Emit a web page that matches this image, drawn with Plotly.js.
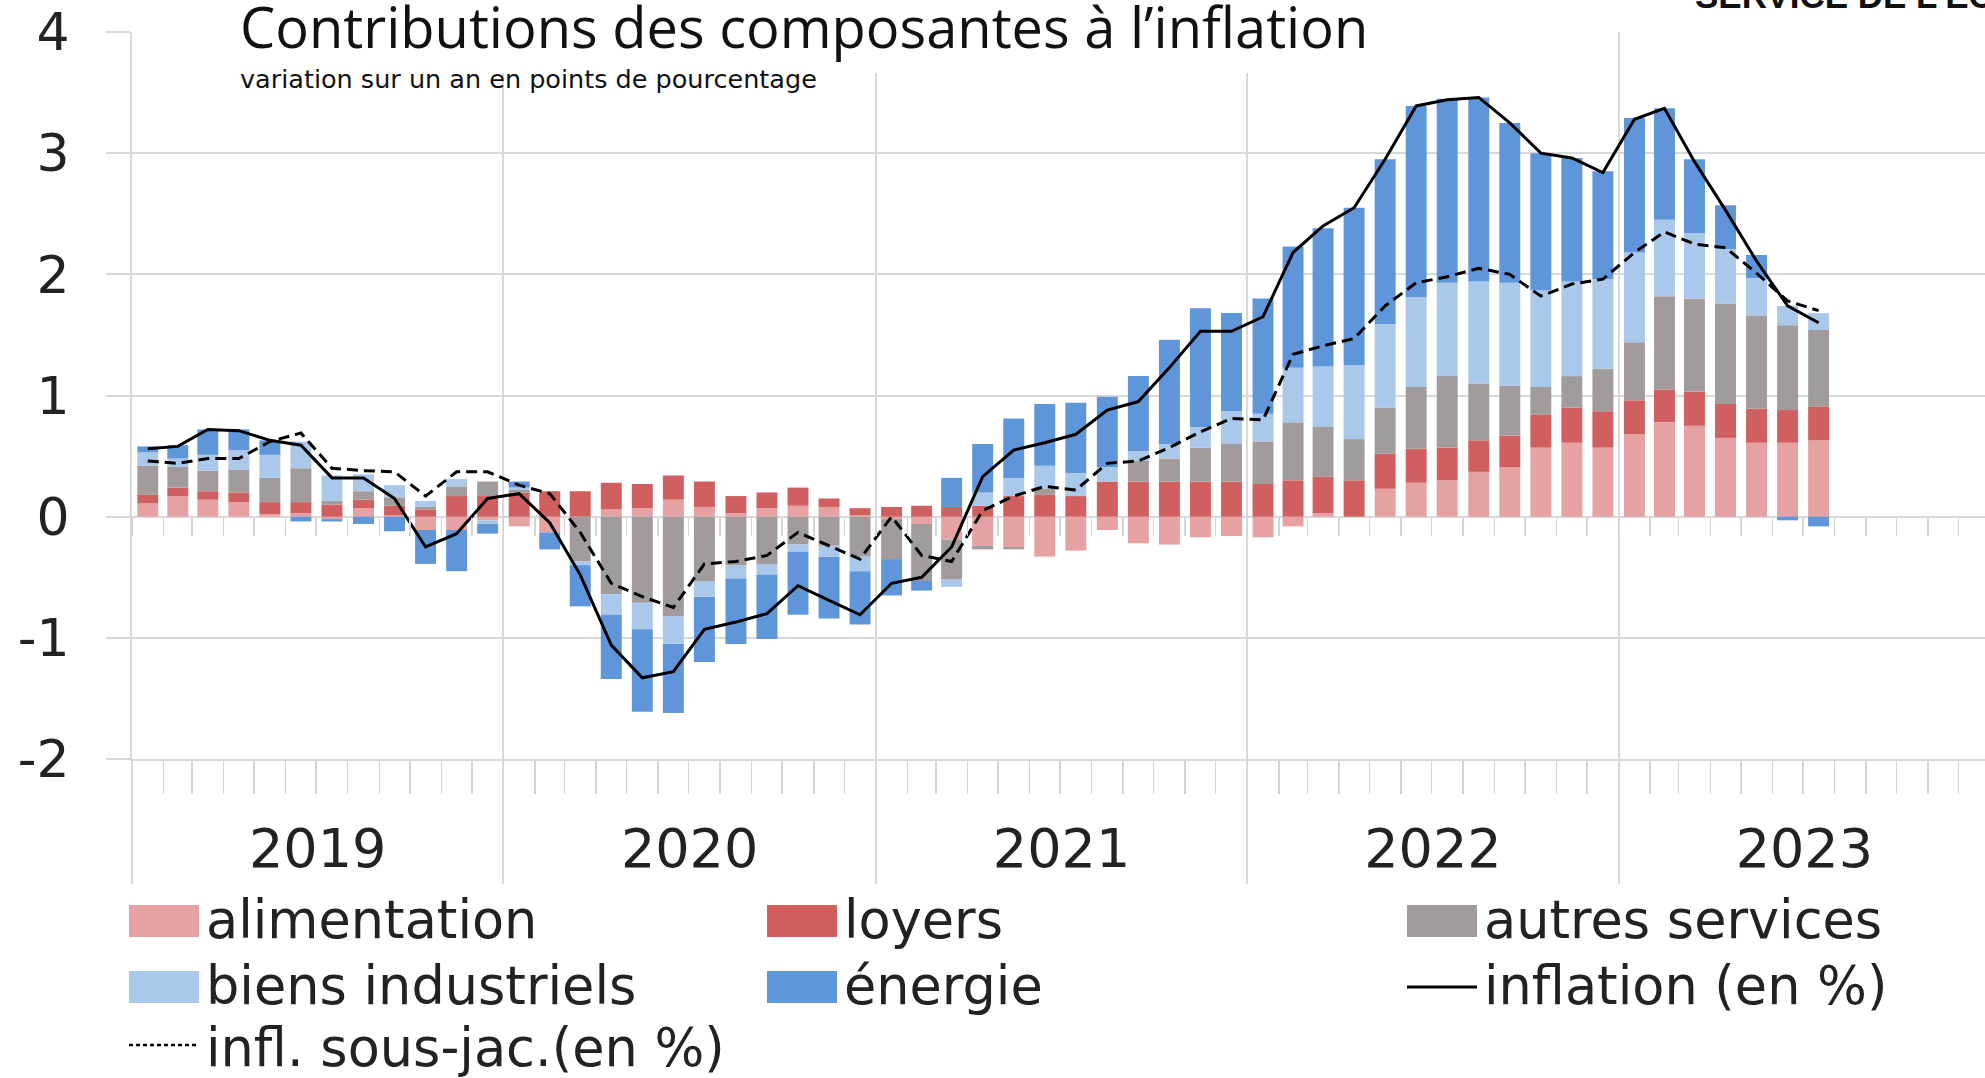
<!DOCTYPE html>
<html>
<head>
<meta charset="utf-8">
<script src="https://cdn.plot.ly/plotly-3.0.1.min.js"></script>
<style>
  html, body { margin: 0; padding: 0; background: #ffffff; }
  #chart { width: 1985px; height: 1078px; }
</style>
</head>
<body>
<div id="chart"></div>
<script>
// ---------- DATA ----------
const months = [
  '2019-01','2019-02','2019-03','2019-04','2019-05','2019-06','2019-07','2019-08','2019-09','2019-10','2019-11','2019-12',
  '2020-01','2020-02','2020-03','2020-04','2020-05','2020-06','2020-07','2020-08','2020-09','2020-10','2020-11','2020-12',
  '2021-01','2021-02','2021-03','2021-04','2021-05','2021-06','2021-07','2021-08','2021-09','2021-10','2021-11','2021-12',
  '2022-01','2022-02','2022-03','2022-04','2022-05','2022-06','2022-07','2022-08','2022-09','2022-10','2022-11','2022-12',
  '2023-01','2023-02','2023-03','2023-04','2023-05','2023-06','2023-07'
];

const alimentation = [
  0.11, 0.17, 0.14, 0.12, 0.02, 0.03, -0.02, 0.07, 0.01, -0.11, -0.11, -0.03,
  -0.08, -0.13, 0.00, 0.06, 0.07, 0.14, 0.08, 0.03, 0.07, 0.09, 0.08, 0.01,
  -0.02, -0.06, -0.19, -0.24, -0.25, -0.33, -0.28, -0.11, -0.22, -0.23, -0.17, -0.16,
  -0.17, -0.08, 0.03, 0.00, 0.23, 0.28, 0.30, 0.37, 0.41, 0.57, 0.61, 0.57,
  0.68, 0.78, 0.75, 0.65, 0.61, 0.61, 0.63
];
const loyers = [
  0.07, 0.07, 0.07, 0.08, 0.10, 0.09, 0.10, 0.07, 0.08, 0.06, 0.17, 0.17,
  0.20, 0.21, 0.21, 0.22, 0.20, 0.20, 0.21, 0.14, 0.13, 0.15, 0.07, 0.06,
  0.08, 0.09, 0.08, 0.09, 0.17, 0.18, 0.17, 0.29, 0.29, 0.29, 0.29, 0.29,
  0.27, 0.30, 0.30, 0.30, 0.29, 0.28, 0.27, 0.26, 0.26, 0.27, 0.29, 0.30,
  0.28, 0.27, 0.28, 0.28, 0.28, 0.27, 0.28
];
const autresServices = [
  0.24, 0.17, 0.17, 0.19, 0.20, 0.28, 0.03, 0.07, 0.07, 0.02, 0.08, 0.12,
  0.02, 0.00, -0.37, -0.64, -0.71, -0.82, -0.53, -0.40, -0.39, -0.23, -0.24, -0.33,
  -0.33, -0.47, -0.33, -0.03, -0.02, 0.05, 0.00, 0.00, 0.17, 0.19, 0.28, 0.31,
  0.35, 0.48, 0.41, 0.34, 0.38, 0.51, 0.59, 0.47, 0.41, 0.23, 0.26, 0.35,
  0.48, 0.77, 0.77, 0.83, 0.77, 0.70, 0.63
];
const biensIndustriels = [
  0.11, 0.07, 0.13, 0.16, 0.19, 0.22, 0.21, 0.14, 0.10, 0.05, 0.06, -0.03,
  0.02, 0.00, -0.03, -0.17, -0.22, -0.23, -0.13, -0.11, -0.09, -0.06, -0.09, -0.12,
  0.00, 0.00, -0.06, 0.11, 0.15, 0.19, 0.19, 0.12, 0.08, 0.12, 0.17, 0.27,
  0.23, 0.45, 0.50, 0.61, 0.69, 0.74, 0.77, 0.84, 0.85, 0.80, 0.78, 0.74,
  0.74, 0.63, 0.54, 0.45, 0.31, 0.16, 0.14
];
const energie = [
  0.05, 0.11, 0.21, 0.17, 0.12, -0.04, -0.02, -0.06, -0.12, -0.28, -0.34, -0.08,
  0.05, -0.14, -0.34, -0.53, -0.68, -0.57, -0.54, -0.54, -0.53, -0.52, -0.51, -0.44,
  -0.30, -0.08, 0.24, 0.40, 0.49, 0.51, 0.58, 0.58, 0.62, 0.86, 0.98, 0.81,
  0.95, 1.00, 1.14, 1.30, 1.36, 1.58, 1.52, 1.52, 1.32, 1.13, 1.02, 0.89,
  1.11, 0.92, 0.61, 0.36, 0.19, -0.03, -0.08
];
const inflation = [
  0.56, 0.58, 0.72, 0.71, 0.63, 0.59, 0.32, 0.32, 0.15, -0.25, -0.14, 0.15,
  0.19, -0.05, -0.48, -1.06, -1.33, -1.28, -0.93, -0.87, -0.80, -0.57, -0.69, -0.81,
  -0.55, -0.50, -0.25, 0.33, 0.55, 0.61, 0.68, 0.88, 0.95, 1.23, 1.53, 1.53,
  1.65, 2.18, 2.40, 2.55, 2.95, 3.39, 3.44, 3.46, 3.25, 3.00, 2.96, 2.84,
  3.28, 3.37, 2.93, 2.53, 2.11, 1.74, 1.60
];
const inflSousJacente = [
  0.46, 0.44, 0.48, 0.48, 0.62, 0.69, 0.40, 0.38, 0.37, 0.17, 0.37, 0.37,
  0.26, 0.19, -0.13, -0.55, -0.66, -0.75, -0.39, -0.37, -0.32, -0.13, -0.24, -0.35,
  0.00, -0.32, -0.37, 0.05, 0.17, 0.25, 0.22, 0.44, 0.46, 0.57, 0.70, 0.81,
  0.80, 1.34, 1.41, 1.47, 1.74, 1.93, 1.98, 2.05, 2.00, 1.82, 1.92, 1.96,
  2.18, 2.35, 2.25, 2.22, 2.01, 1.78, 1.70
];

const seriesNames = ['alimentation', 'loyers', 'autres services', 'biens industriels', 'énergie'];
const lineNames = ['inflation (en %)', 'infl. sous-jac.(en %)'];
const yTickVals = [-2, -1, 0, 1, 2, 3, 4];
const yTickText = ['-2', '-1', '0', '1', '2', '3', '4'];
const titleText = 'Contributions des composantes à l’inflation';
const subtitleText = 'variation sur un an en points de pourcentage';
const sourceText = 'SERVICE DE L’ÉCONOMIE';

// ---------- STYLE ----------
const barColors = ['#e6a2a3', '#d0605f', '#a19b9b', '#aac9ea', '#5f96d9'];
const grid = '#d9d9d9';
const textCol = '#222222';
const DAY = 86400000;

const L = 132, R = 1985, T = 32, B = 759;
const W = R - L, H = B - T;
const px2x = px => (px - L) / W;
const py2y = py => (B - py) / H;

const barSeries = [alimentation, loyers, autresServices, biensIndustriels, energie];

const traces = barSeries.map((vals, i) => ({
  type: 'bar',
  name: seriesNames[i],
  x: months,
  y: vals,
  xperiod: 'M1',
  xperiodalignment: 'middle',
  width: 20.6 * DAY,
  marker: { color: barColors[i], line: { width: 0 } },
  xaxis: 'x',
  yaxis: 'y',
  hoverinfo: 'x+y+name'
}));

traces.push({
  type: 'scatter', mode: 'lines', name: lineNames[0],
  x: months, y: inflation,
  xperiod: 'M1', xperiodalignment: 'middle',
  line: { color: '#000000', width: 3 },
  xaxis: 'x2', yaxis: 'y'
});
traces.push({
  type: 'scatter', mode: 'lines', name: lineNames[1],
  x: months, y: inflSousJacente,
  xperiod: 'M1', xperiodalignment: 'middle',
  line: { color: '#000000', width: 3, dash: '11px,6px' },
  xaxis: 'x2', yaxis: 'y'
});

const xRange = ['2019-01-01', '2023-12-27'];

// ---------- LEGEND (drawn as shapes + text) ----------
const legendCols = [129, 767, 1407];
const legendRows = [921, 987, 1045];
const legendTextRows = [919, 985, 1047];
const legendEntries = [
  { label: seriesNames[0], kind: 'bar', color: barColors[0], c: 0, r: 0 },
  { label: seriesNames[1], kind: 'bar', color: barColors[1], c: 1, r: 0 },
  { label: seriesNames[2], kind: 'bar', color: barColors[2], c: 2, r: 0 },
  { label: seriesNames[3], kind: 'bar', color: barColors[3], c: 0, r: 1 },
  { label: seriesNames[4], kind: 'bar', color: barColors[4], c: 1, r: 1 },
  { label: lineNames[0], kind: 'solid', color: '#000000', c: 2, r: 1 },
  { label: lineNames[1], kind: 'dash', color: '#000000', c: 0, r: 2 }
];

const shapes = [];
const annotations = [];

// white box behind the title
shapes.push({
  type: 'rect', xref: 'paper', yref: 'paper', layer: 'above',
  x0: px2x(223), x1: px2x(1395), y0: py2y(73), y1: py2y(-10),
  fillcolor: '#ffffff', line: { width: 0 }
});

legendEntries.forEach(e => {
  const x0 = legendCols[e.c], cy = legendRows[e.r];
  if (e.kind === 'bar') {
    shapes.push({
      type: 'rect', xref: 'paper', yref: 'paper',
      x0: px2x(x0), x1: px2x(x0 + 70), y0: py2y(cy + 16), y1: py2y(cy - 16),
      fillcolor: e.color, line: { width: 0 }
    });
  } else {
    shapes.push({
      type: 'line', xref: 'paper', yref: 'paper',
      x0: px2x(x0), x1: px2x(x0 + 70), y0: py2y(cy), y1: py2y(cy),
      line: { color: e.color, width: e.kind === 'solid' ? 3 : 2.5, dash: e.kind === 'solid' ? 'solid' : '4px,3px' }
    });
  }
  annotations.push({
    xref: 'paper', yref: 'paper', showarrow: false,
    x: px2x(x0 + 75), xanchor: 'left',
    y: py2y(legendTextRows[e.r]), yanchor: 'middle',
    text: e.label,
    font: { family: 'DejaVu Sans', size: 52.5, color: textCol }
  });
});

annotations.push({
  xref: 'paper', yref: 'paper', showarrow: false,
  x: px2x(238), xanchor: 'left', y: py2y(26), yanchor: 'middle',
  text: titleText,
  font: { family: 'Open Sans', size: 56, color: '#111111' }
});
annotations.push({
  xref: 'paper', yref: 'paper', showarrow: false,
  x: px2x(238), xanchor: 'left', y: py2y(79), yanchor: 'middle',
  text: subtitleText,
  font: { family: 'DejaVu Sans', size: 25.5, color: '#111111' }
});
annotations.push({
  xref: 'paper', yref: 'paper', showarrow: false,
  x: px2x(1693), xanchor: 'left', y: py2y(17), yanchor: 'bottom',
  text: '<b>' + sourceText + '</b>',
  font: { family: 'Liberation Sans', size: 35, color: '#111111' }
});

const layout = {
  width: 1985, height: 1078,
  margin: { l: L, r: 1985 - R, t: T, b: 1078 - B, pad: 0 },
  paper_bgcolor: '#ffffff', plot_bgcolor: '#ffffff',
  barmode: 'relative',
  showlegend: false,
  xaxis: {
    type: 'date', range: xRange,
    tickmode: 'linear', tick0: '2019-01-01', dtick: 'M12',
    ticklabelmode: 'period', tickformat: '%Y',
    ticks: 'outside', ticklen: 123, tickwidth: 2, tickcolor: grid,
    ticklabelstandoff: -82,
    showgrid: true, gridcolor: grid, gridwidth: 2,
    showline: true, linecolor: grid, linewidth: 2,
    zeroline: false,
    tickfont: { family: 'DejaVu Sans', size: 54, color: textCol },
    minor: { dtick: 'M1', ticks: 'outside', ticklen: 33, tickwidth: 1.5, tickcolor: '#d4d4d4', showgrid: false },
    fixedrange: true
  },
  xaxis2: {
    type: 'date', range: xRange, overlaying: 'x', anchor: 'free', position: 1 / 3, side: 'bottom',
    tickmode: 'linear', tick0: '2019-01-01', dtick: 'M1',
    ticks: 'outside', ticklen: 18, tickwidth: 1.5, tickcolor: '#d4d4d4',
    showticklabels: false, showgrid: false, showline: false, zeroline: false,
    fixedrange: true
  },
  yaxis: {
    range: [-2, 4], tickmode: 'array', tickvals: yTickVals, ticktext: yTickText,
    ticks: 'outside', ticklen: 24, tickwidth: 2, tickcolor: grid,
    ticklabelstandoff: 26,
    showgrid: true, gridcolor: grid, gridwidth: 2,
    zeroline: true, zerolinecolor: grid, zerolinewidth: 2,
    showline: true, linecolor: grid, linewidth: 2,
    tickfont: { family: 'DejaVu Sans', size: 52, color: textCol },
    fixedrange: true
  },
  shapes: shapes,
  annotations: annotations
};

Plotly.newPlot('chart', traces, layout, { displayModeBar: false, staticPlot: true });
</script>
</body>
</html>
